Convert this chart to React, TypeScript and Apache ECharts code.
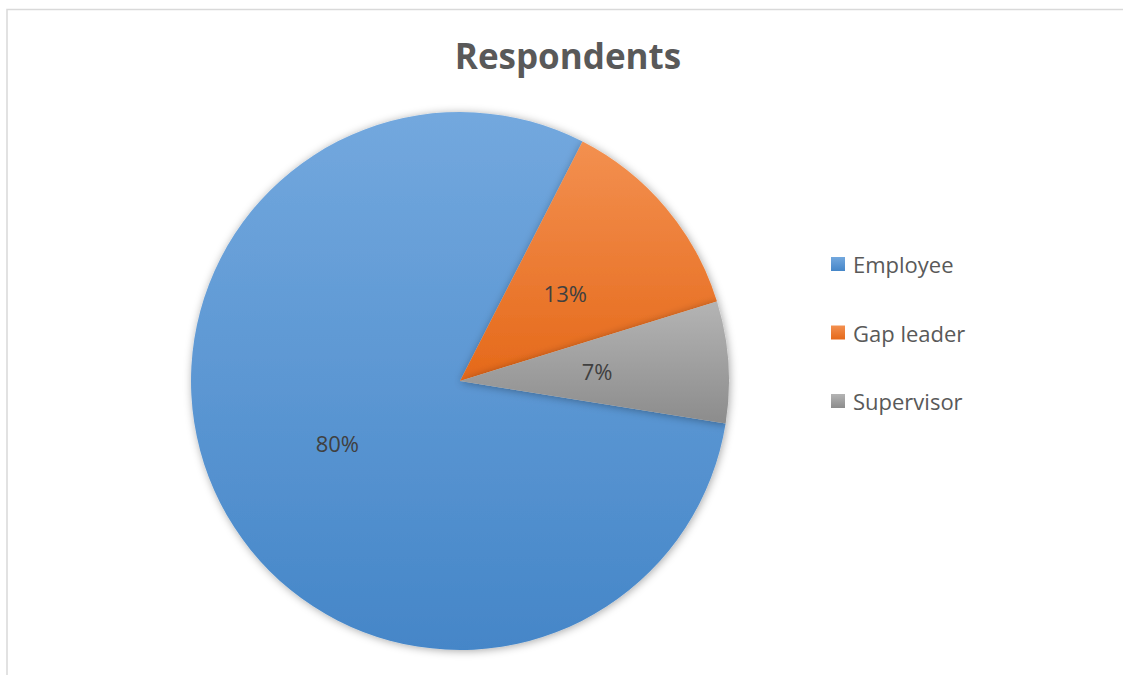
import React, { useEffect, useRef } from "react";
import * as echarts from "echarts";

const categories = ["Employee", "Gap leader", "Supervisor"];
const values = [80, 12.7, 7.3];
const topColors = ["#73a8de", "#f39050", "#b4b4b4"];
const bottomColors = ["#4586c8", "#e5691a", "#8c8c8c"];

export default function App() {
  const ref = useRef<HTMLDivElement>(null);
  useEffect(() => {
    if (!ref.current) return;
    const chart = echarts.init(ref.current, null, { renderer: "svg" });
    const data = categories.map((name, i) => ({
      name,
      value: values[i],
      itemStyle: {
        color: new echarts.graphic.LinearGradient(0, 0, 0, 1, [
          { offset: 0, color: topColors[i] },
          { offset: 1, color: bottomColors[i] },
        ]),
      },
    }));
    chart.setOption({
      animation: false,
      backgroundColor: "#ffffff",
      title: {
        text: "Respondents",
        left: 563,
        top: 33,
        textAlign: "center",
        textStyle: {
          fontFamily: "Open Sans",
          fontWeight: "bold",
          fontSize: 35,
          color: "#595959",
        },
      },
      legend: {
        orient: "vertical",
        left: 831,
        top: 253,
        padding: 0,
        itemWidth: 14,
        itemHeight: 14,
        itemGap: 46.5,
        icon: "rect",
        textStyle: {
          fontFamily: "Open Sans",
          fontSize: 22,
          lineHeight: 22,
          color: "#595959",
          padding: [0, 0, 0, 3],
        },
        data: categories,
      },
      graphic: [
        {
          type: "rect",
          shape: { x: 7, y: 9.5, width: 1300, height: 800 },
          style: { fill: "none", stroke: "#d9d9d9", lineWidth: 1.5 },
          silent: true,
        },
      ],
      series: [
        {
          type: "pie",
          center: [460, 381],
          radius: [0, 269],
          startAngle: -9.1,
          clockwise: true,
          avoidLabelOverlap: false,
          itemStyle: {
            shadowBlur: 8,
            shadowColor: "rgba(0,0,0,0.35)",
            shadowOffsetX: 1,
            shadowOffsetY: 1,
          },
          label: {
            show: true,
            position: "inside",
            formatter: (p: any) => Math.round(p.percent) + "%",
            fontFamily: "Open Sans",
            fontSize: 22,
            color: "#404040",
          },
          labelLine: { show: false },
          emphasis: { disabled: true },
          data,
        },
      ],
    });
    return () => chart.dispose();
  }, []);
  return (
    <div
      ref={ref}
      style={{ position: "absolute", left: 0, top: 0, width: 1123, height: 675 }}
    />
  );
}
